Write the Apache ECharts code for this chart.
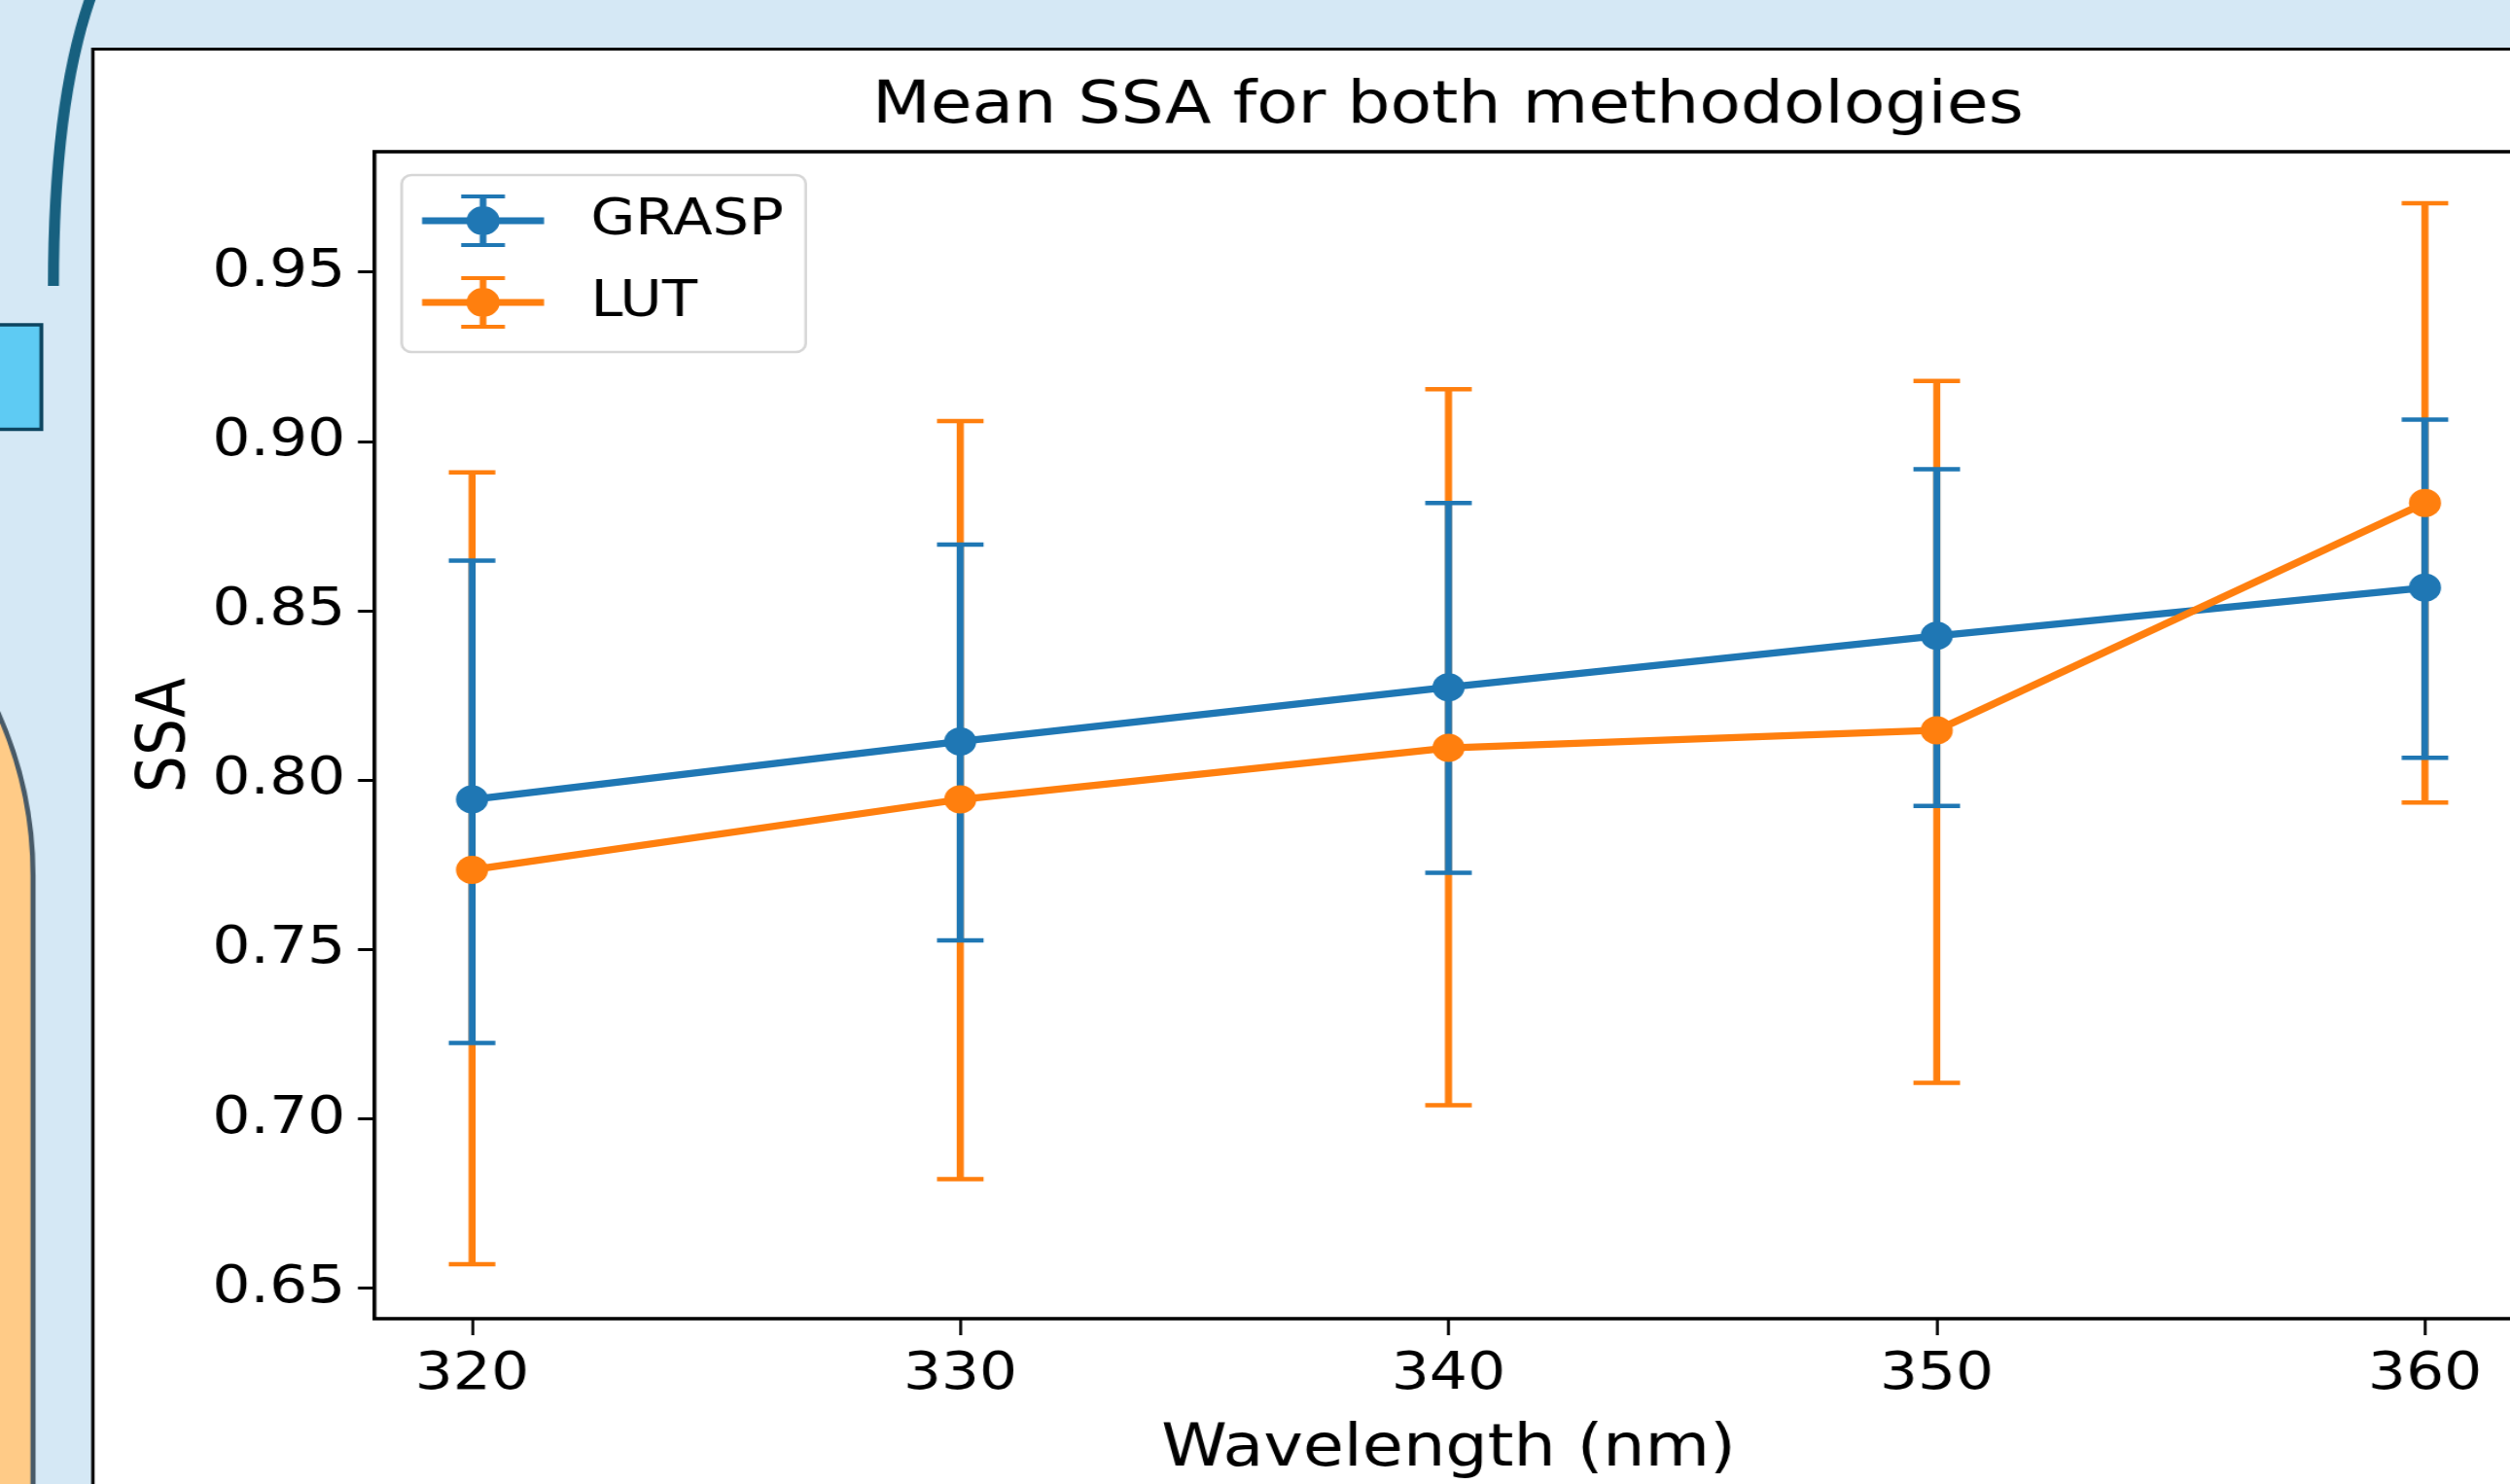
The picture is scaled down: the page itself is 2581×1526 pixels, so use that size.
<!DOCTYPE html>
<html>
<head>
<meta charset="utf-8">
<script src="https://cdn.jsdelivr.net/npm/echarts@6/dist/echarts.min.js"></script>
<style>
html,body{margin:0;padding:0;overflow:hidden;background:#d5e8f5;width:2581px;height:1526px;}
#chart{width:2300px;height:1526px;transform:scaleX(1.14);transform-origin:0 0;}
</style>
</head>
<body>
<div id="chart"></div>
<script>
// ---- data ----
const wavelengths = [320, 330, 340, 350, 360];
const graspMean  = [0.7943, 0.8114, 0.8274, 0.8426, 0.8568];
const graspLower = [0.7224, 0.7527, 0.7726, 0.7924, 0.8066];
const graspUpper = [0.8648, 0.8695, 0.8818, 0.8918, 0.9064];
const lutMean  = [0.7735, 0.7943, 0.8095, 0.8147, 0.8818];
const lutLower = [0.6571, 0.6822, 0.7040, 0.7106, 0.7934];
const lutUpper = [0.8908, 0.9060, 0.9154, 0.9178, 0.9703];
const xTicks = [320, 330, 340, 350, 360];
const yTicks = [0.65, 0.70, 0.75, 0.80, 0.85, 0.90, 0.95];
const seriesNames = ['GRASP', 'LUT'];
const titleText = 'Mean SSA for both methodologies';
const xName = 'Wavelength (nm)';
const yName = 'SSA';

const BLUE = '#1f77b4', ORANGE = '#ff7f0e';
const FONT = 'DejaVu Sans';

function meanData(m){ return wavelengths.map((w,i)=>[w, m[i]]); }
function errData(lo, hi){ return wavelengths.map((w,i)=>[w, lo[i], hi[i]]); }

function errRender(params, api){
  const x = api.value(0), lo = api.value(1), hi = api.value(2);
  const p1 = api.coord([x, lo]), p2 = api.coord([x, hi]);
  const c = api.visual('color');
  const cw = 21;
  return {type:'group', children:[
    {type:'line', shape:{x1:p1[0], y1:p1[1], x2:p2[0], y2:p2[1]}, style:{stroke:c, lineWidth:6.4}},
    {type:'line', shape:{x1:p1[0]-cw, y1:p1[1], x2:p1[0]+cw, y2:p1[1]}, style:{stroke:c, lineWidth:4.5}},
    {type:'line', shape:{x1:p2[0]-cw, y1:p2[1], x2:p2[0]+cw, y2:p2[1]}, style:{stroke:c, lineWidth:4.5}}
  ]};
}

const legendIcon = 'path://M0 23.5H110V30.5H0Z M52 2H58V52H52Z M35.25 0H74.75V4H35.25Z M35.25 50H74.75V54H35.25Z M40 27A15 15 0 1 1 70 27A15 15 0 1 1 40 27Z';

const chart = echarts.init(document.getElementById('chart'), null, {renderer:'canvas'});
chart.setOption({
  animation:false,
  backgroundColor:'#d5e8f5',
  graphic:[
    {type:'bezierCurve', z:-10, shape:{x1:48.2, y1:294, cpx1:48.2, cpy1:100, x2:84, y2:-10},
     style:{fill:null, stroke:'#17607f', lineWidth:10}},
    {type:'rect', z:-10, shape:{x:-8.8, y:334, width:46.1, height:107.5},
     style:{fill:'#5ecbf3', stroke:'#0c4560', lineWidth:3.5}},
    {type:'rect', z:-10, shape:{x:-1000, y:440, width:1029.8, height:1300, r:[0,460,0,0]},
     style:{fill:'#ffcb87', stroke:'#485a68', lineWidth:4.5}},
    {type:'rect', z:-5, shape:{x:83.8, y:50.5, width:3000, height:3000},
     style:{fill:'#ffffff', stroke:'#000000', lineWidth:3}}
  ],
  title:{
    text:titleText, left:1301, top:75, textAlign:'center',
    textStyle:{fontFamily:FONT, fontSize:61, fontWeight:'normal', color:'#000'}
  },
  legend:{
    orient:'vertical', left:362.3, top:180,
    padding:[20, 19.8, 24, 18.4],
    itemGap:30, itemWidth:110, itemHeight:54,
    backgroundColor:'#ffffff', borderColor:'#d6d6d6', borderWidth:2.5, borderRadius:9,
    itemStyle:{borderWidth:0},
    textStyle:{fontFamily:FONT, fontSize:52, color:'#000', lineHeight:54, padding:[0,0,0,37]},
    data:[{name:seriesNames[0], icon:legendIcon}, {name:seriesNames[1], icon:legendIcon}]
  },
  grid:{
    left:337.7, top:156, right:24.6, bottom:170,
    show:true, borderColor:'#000', borderWidth:3.5, backgroundColor:'transparent'
  },
  xAxis:{
    type:'value', min:318, max:362,
    name:xName, nameLocation:'middle', nameGap:105,
    nameTextStyle:{fontFamily:FONT, fontSize:60, color:'#000'},
    axisLine:{show:false},
    splitLine:{show:false},
    axisTick:{show:true, length:17, customValues:xTicks, lineStyle:{color:'#000', width:2.6}},
    axisLabel:{customValues:xTicks, margin:31, fontFamily:FONT, fontSize:54, color:'#000',
      formatter:v=>String(v)}
  },
  yAxis:{
    type:'value', min:0.641, max:0.9855,
    name:yName, nameLocation:'middle', nameGap:157,
    nameTextStyle:{fontFamily:FONT, fontSize:60, color:'#000'},
    axisLine:{show:false},
    splitLine:{show:false},
    axisTick:{show:true, length:14.9, customValues:yTicks, lineStyle:{color:'#000', width:3}},
    axisLabel:{customValues:yTicks, margin:26, fontFamily:FONT, fontSize:54, color:'#000',
      formatter:v=>v.toFixed(2)}
  },
  series:[
    {name:'LUT err', type:'custom', z:2, renderItem:errRender, itemStyle:{color:ORANGE},
     encode:{x:0, y:[1,2]}, data:errData(lutLower, lutUpper), silent:true},
    {name:'GRASP err', type:'custom', z:3, renderItem:errRender, itemStyle:{color:BLUE},
     encode:{x:0, y:[1,2]}, data:errData(graspLower, graspUpper), silent:true},
    {name:seriesNames[0], type:'line', z:4, data:meanData(graspMean), symbol:'circle', symbolSize:29,
     itemStyle:{color:BLUE, borderWidth:0}, lineStyle:{color:BLUE, width:7.3}},
    {name:seriesNames[1], type:'line', z:5, data:meanData(lutMean), symbol:'circle', symbolSize:29,
     itemStyle:{color:ORANGE, borderWidth:0}, lineStyle:{color:ORANGE, width:7.3}}
  ]
});
</script>
</body>
</html>
